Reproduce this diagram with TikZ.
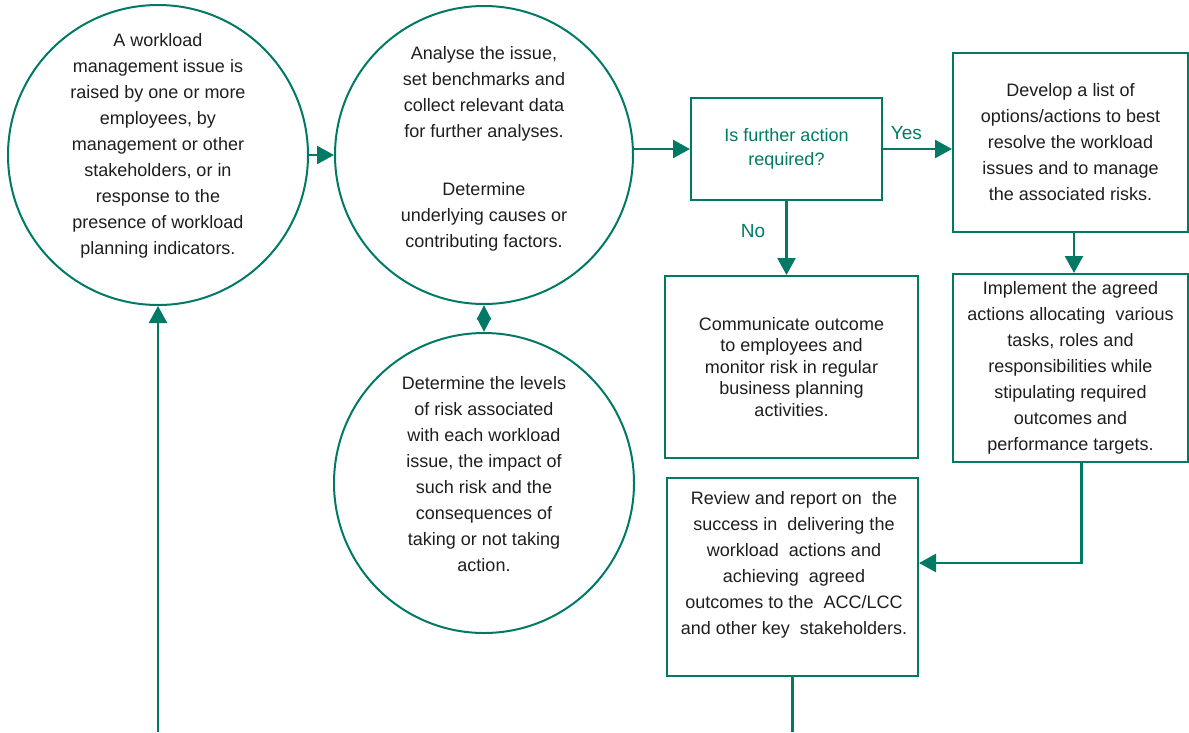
\documentclass[tikz,border=0pt]{standalone}
\usepackage{fontspec}
\setmainfont{Liberation Sans}
\usetikzlibrary{arrows.meta,calc}
\definecolor{teal1}{RGB}{0,122,100}
\definecolor{ink}{RGB}{30,30,30}
\begin{document}
\begin{tikzpicture}[x=1pt,y=-1pt,
  shp/.style={draw=teal1, line width=2pt},
  circ/.style={shp, circle, minimum size=300pt, inner sep=0pt},
  box/.style={shp, rectangle, inner sep=0pt, align=center, text=ink, font=\fontsize{18}{26}\selectfont},
  txt/.style={align=center, text=ink, font=\fontsize{18}{26}\selectfont, inner sep=0pt},
  conn/.style={draw=teal1, line width=2.5pt},
  arr/.style={conn, -{Triangle[length=17pt,width=18pt]}},
  lab/.style={text=teal1, font=\fontsize{19}{22}\selectfont, inner sep=0pt}]
\useasboundingbox (0,0) rectangle (1189,732);
% circles
\node[circ] (c1) at (158,155) {};
\node[txt] (t1) at (158,146) {A workload\\management issue is\\raised by one or more\\employees, by\\management or other\\stakeholders, or in\\response to the\\presence of workload\\planning indicators.};
\node[circ, minimum size=298pt] (c2) at (484,155) {};
\node[txt] (t2) at (484,149) {Analyse the issue,\\set benchmarks and\\collect relevant data\\for further analyses.\\[32pt]Determine\\underlying causes or\\contributing factors.};
\node[circ] (c3) at (484,483) {};
\node[txt] (t3) at (484,474) {Determine the levels\\of risk associated\\with each workload\\issue, the impact of\\such risk and the\\consequences of\\taking or not taking\\action.};
% boxes
\node[box, minimum width=191pt, minimum height=102pt, text=teal1, font=\fontsize{18}{24}\selectfont] (dec) at (786.5,149) {Is further action\\required?};
\node[box, minimum width=235pt, minimum height=179pt] (dev) at (1070.5,142.5) {Develop a list of\\options/actions to best\\resolve the workload\\issues and to manage\\the associated risks.};
\node[box, minimum width=235pt, minimum height=188pt] (imp) at (1070.5,368) {Implement the agreed\\actions allocating \ various\\tasks, roles and\\responsibilities while\\stipulating required\\outcomes and\\performance targets.};
\node[box, minimum width=253pt, minimum height=182pt, font=\fontsize{18}{21.5}\selectfont] (com) at (791.5,367) {Communicate outcome\\to employees and\\monitor risk in regular\\business planning\\activities.};
\node[box, minimum width=251pt, minimum height=198pt] (rev) at (792.5,577) {};
\node[txt] (trev) at (794,564.5) {Review and report on \ the\\success in \ delivering the\\workload \ actions and\\achieving \ agreed\\outcomes to the \ ACC/LCC\\and other key \ stakeholders.};
% connectors
\coordinate (bl) at (159,732);
\coordinate (br) at (794,732);
\draw[arr] (c1.east) -- (c2.west);
\draw[conn, {Triangle[length=14.5pt,width=14pt]}-{Triangle[length=14.5pt,width=14pt]}] (c2.south) -- (c3.north);
\draw[arr] (c2.east |- dec.west) -- (dec.west);
\draw[arr] (dec.east) -- (dec.east -| dev.west) node[lab, pos=0.34, above=8pt] (yes) {Yes};
\draw[arr] (dec.south) -- (dec.south |- com.north) node[lab, pos=0.4, left=20pt] (no) {No};
\draw[arr] ($(dev.south)+(3.5,0)$) -- ($(imp.north)+(3.5,0)$);
\draw[arr] ($(imp.south)+(11,0)$) |- ($(rev.east)+(0,-14)$);
\draw[conn] (rev.south) -- (rev.south |- br);
\draw[arr] (c1.south |- bl) -- (c1.south);
\end{tikzpicture}
\end{document}
